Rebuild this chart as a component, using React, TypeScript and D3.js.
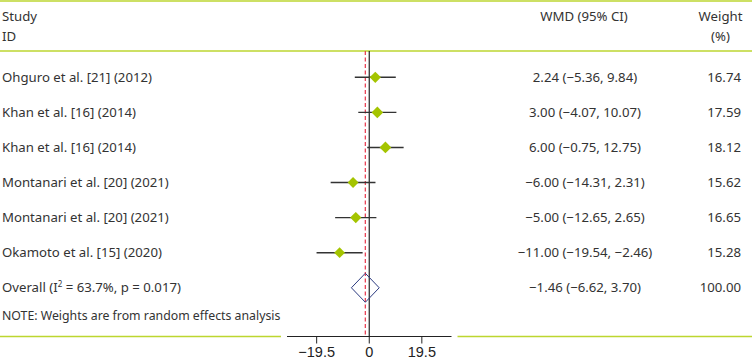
import React from "react";
import * as d3 from "d3";

const studies = [
  "Ohguro et al. [21] (2012)",
  "Khan et al. [16] (2014)",
  "Khan et al. [16] (2014)",
  "Montanari et al. [20] (2021)",
  "Montanari et al. [20] (2021)",
  "Okamoto et al. [15] (2020)",
];
const estimates = [2.24, 3.0, 6.0, -6.0, -5.0, -11.0];
const lowers = [-5.36, -4.07, -0.75, -14.31, -12.65, -19.54];
const uppers = [9.84, 10.07, 12.75, 2.31, 2.65, -2.46];
const weights = [16.74, 17.59, 18.12, 15.62, 16.65, 15.28];
const overallLabel = "Overall (I";
const overallLabelRest = " = 63.7%, p = 0.017)";
const overallEst = -1.46;
const overallLow = -6.62;
const overallHigh = 3.7;
const overallWeight = 100.0;
const tickValues = [-19.5, 0, 19.5];
const domainX = [-30.5, 30.5];
const noteText = "NOTE: Weights are from random effects analysis";

const W = 752;
const H = 360;
const fmt = (v: number) => {
  const s = Math.abs(v).toFixed(2);
  return v < 0 ? "\u2212" + s : s;
};
const ciText = (e: number, l: number, u: number) =>
  `${fmt(e)} (${fmt(l)}, ${fmt(u)})`;

export default function App() {
  const x = d3.scaleLinear().domain(domainX).range([287, 451.5]);
  const rowY = d3
    .scaleLinear()
    .domain([0, studies.length - 1])
    .range([77.3, 252.7]);
  const overallY = rowY(studies.length);
  const axisY = 336.5;
  const topLine = 51;
  const green = "#bdd630";
  const diamondFill = "#a4c400";
  const text = "#333333";
  const font = "'Noto Sans', sans-serif";
  const fs = 13.2;
  const sz = (w: number) => 1.38 * Math.sqrt(w);
  const estX = 585;
  const wtX = 741;

  return (
    <svg
      width={W}
      height={H}
      style={{ position: "absolute", left: 0, top: 0, background: "#fff" }}
      fontFamily={font}
      fontSize={fs}
    >
      {/* header lines */}
      <line x1={0} x2={W} y1={1} y2={1} stroke={green} strokeWidth={1.5} />
      <line x1={0} x2={W} y1={topLine} y2={topLine} stroke={green} strokeWidth={1.5} />
      <line x1={0} x2={281} y1={axisY} y2={axisY} stroke={green} strokeWidth={1.5} />
      <line x1={457.5} x2={W} y1={axisY} y2={axisY} stroke={green} strokeWidth={1.5} />

      {/* headers */}
      <text x={2} y={21} fill={text}>Study</text>
      <text x={2} y={41} fill={text}>ID</text>
      <text x={584} y={21} fill={text} textAnchor="middle">WMD (95% CI)</text>
      <text x={720.5} y={21} fill={text} textAnchor="middle">Weight</text>
      <text x={720.5} y={41} fill={text} textAnchor="middle">(%)</text>

      {/* reference lines */}
      <line x1={x(0)} x2={x(0)} y1={topLine} y2={axisY} stroke="#222" strokeWidth={1.2} />
      <line
        x1={x(overallEst)}
        x2={x(overallEst)}
        y1={topLine}
        y2={axisY}
        stroke="#e8344a"
        strokeWidth={1.2}
        strokeDasharray="4,2.5"
      />

      {/* studies */}
      {studies.map((s, i) => {
        const y = rowY(i);
        const cx = x(estimates[i]);
        const h = sz(weights[i]);
        return (
          <g key={i}>
            <text x={2} y={y + 4.5} fill={text}>{s}</text>
            <line x1={x(lowers[i])} x2={x(uppers[i])} y1={y} y2={y} stroke="#333" strokeWidth={1.4} />
            <path
              d={`M${cx - h},${y} L${cx},${y - h} L${cx + h},${y} L${cx},${y + h} Z`}
              fill={diamondFill}
            />
            <text x={estX} y={y + 4.5} fill={text} textAnchor="middle">
              {ciText(estimates[i], lowers[i], uppers[i])}
            </text>
            <text x={wtX} y={y + 4.5} fill={text} textAnchor="end">
              {weights[i].toFixed(2)}
            </text>
          </g>
        );
      })}

      {/* overall */}
      <text x={2} y={overallY + 4.5} fill={text}>
        {overallLabel}
        <tspan fontSize={8} dy={-5}>2</tspan>
        <tspan dy={5}>{overallLabelRest}</tspan>
      </text>
      <path
        d={`M${x(overallLow)},${overallY} L${x(overallEst)},${overallY - 14.5} L${x(overallHigh)},${overallY} L${x(overallEst)},${overallY + 14.5} Z`}
        fill="none"
        stroke="#2b3a80"
        strokeWidth={1}
      />
      <text x={estX} y={overallY + 4.5} fill={text} textAnchor="middle">
        {ciText(overallEst, overallLow, overallHigh)}
      </text>
      <text x={wtX} y={overallY + 4.5} fill={text} textAnchor="end">
        {overallWeight.toFixed(2)}
      </text>

      <text x={2} y={320} fill={text} fontSize={12.3}>{noteText}</text>

      {/* axis */}
      <line x1={x(domainX[0])} x2={x(domainX[1])} y1={axisY} y2={axisY} stroke="#222" strokeWidth={1} />
      {tickValues.map((t) => (
        <g key={t}>
          <line x1={x(t)} x2={x(t)} y1={axisY} y2={axisY + 7} stroke="#222" strokeWidth={1} />
          <text
            x={x(t)}
            y={axisY + 20.5}
            textAnchor="middle"
            fontFamily="'Liberation Sans', Arial, sans-serif"
            fontSize={14.5}
            fill="#222"
          >
            {t < 0 ? "\u2212" + Math.abs(t) : String(t)}
          </text>
        </g>
      ))}
    </svg>
  );
}
